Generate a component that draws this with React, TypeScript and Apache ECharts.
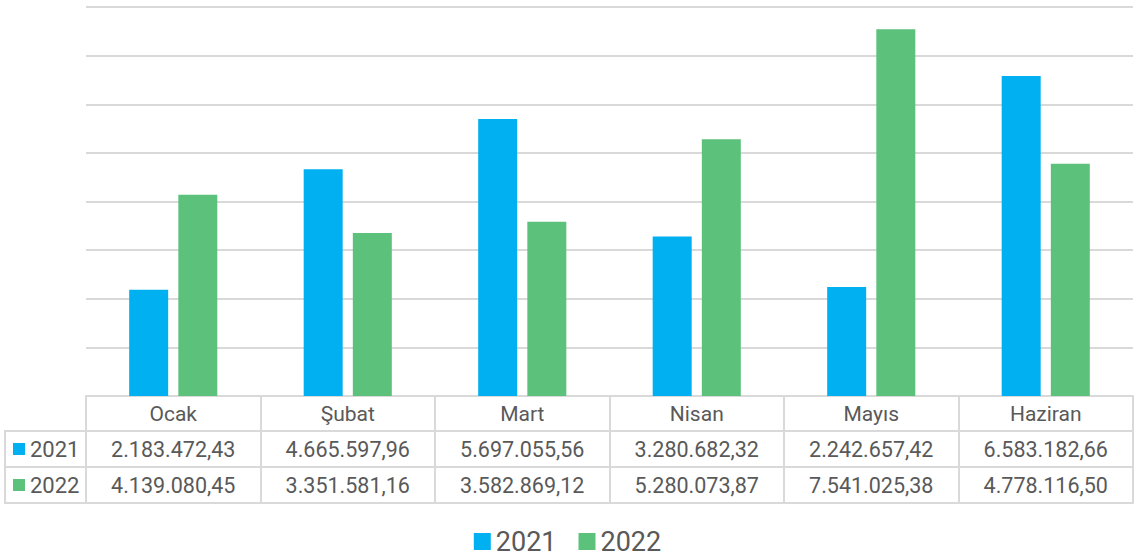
import React, { useEffect, useRef } from "react";
import * as echarts from "echarts";

const categories = ["Ocak", "Şubat", "Mart", "Nisan", "Mayıs", "Haziran"];
const seriesNames = ["2021", "2022"];
const values2021 = [2183472.43, 4665597.96, 5697055.56, 3280682.32, 2242657.42, 6583182.66];
const values2022 = [4139080.45, 3351581.16, 3582869.12, 5280073.87, 7541025.38, 4778116.5];
const colors = ["#00B0F0", "#5CC27B"];

const FONT = "Roboto";
const TEXT = "#595959";
const LINE = "#D9D9D9";

function formatTR(v: number): string {
  const fixed = v.toFixed(2);
  const [intPart, dec] = fixed.split(".");
  const withDots = intPart.replace(/\B(?=(\d{3})+(?!\d))/g, ".");
  return withDots + "," + dec;
}

export default function App() {
  const ref = useRef<HTMLDivElement>(null);
  useEffect(() => {
    if (!ref.current) return;
    const chart = echarts.init(ref.current, undefined, { renderer: "svg" });
    const rowAxis = (data: string[], offset: number, showLabel: boolean) => ({
      type: "category",
      gridIndex: 0,
      position: "bottom",
      offset,
      data,
      axisLine: { show: true, lineStyle: { color: LINE, width: 2 } },
      axisTick: { show: false },
      axisLabel: {
        show: showLabel,
        margin: 7,
        fontSize: 21.5,
        fontFamily: FONT,
        color: TEXT,
        interval: 0,
      },
      splitLine: { show: false },
    });
    const rows = [values2021, values2022];
    const leftGraphics: any[] = [
      { type: "line", shape: { x1: 5, y1: 431, x2: 86, y2: 431 }, style: { stroke: LINE, lineWidth: 2 } },
      { type: "line", shape: { x1: 5, y1: 467, x2: 86, y2: 467 }, style: { stroke: LINE, lineWidth: 2 } },
      { type: "line", shape: { x1: 5, y1: 503, x2: 86, y2: 503 }, style: { stroke: LINE, lineWidth: 2 } },
      { type: "line", shape: { x1: 5, y1: 430, x2: 5, y2: 504 }, style: { stroke: LINE, lineWidth: 2 } },
    ];
    seriesNames.forEach((name, i) => {
      const cy = 449 + i * 36;
      leftGraphics.push({
        type: "rect",
        shape: { x: 13, y: cy - 6, width: 12, height: 12 },
        style: { fill: colors[i] },
      });
      leftGraphics.push({
        type: "text",
        x: 30,
        y: cy,
        style: {
          text: name,
          fontSize: 22,
          fontFamily: FONT,
          fill: TEXT,
          verticalAlign: "middle",
          align: "left",
        },
      });
    });
    chart.setOption({
      animation: false,
      color: colors,
      grid: { left: 86, right: 2, top: 7, bottom: 161, containLabel: false },
      legend: {
        data: seriesNames,
        left: "center",
        top: 528,
        padding: 0,
        itemWidth: 17,
        itemHeight: 17,
        itemGap: 22,
        icon: "rect",
        textStyle: { fontSize: 27, lineHeight: 27, fontFamily: FONT, color: TEXT },
      },
      xAxis: [
        {
          type: "category",
          gridIndex: 0,
          position: "bottom",
          data: categories,
          axisLine: { show: true, lineStyle: { color: LINE, width: 2 } },
          axisTick: { show: true, length: 107, lineStyle: { color: LINE, width: 2 } },
          axisLabel: { margin: 7, fontSize: 21, fontFamily: FONT, color: TEXT, interval: 0 },
        },
        rowAxis(rows[0].map(formatTR), 35, true),
        rowAxis(rows[1].map(formatTR), 71, true),
        rowAxis(categories.map(() => ""), 107, false),
      ],
      yAxis: {
        type: "value",
        min: 0,
        max: 8000000,
        interval: 1000000,
        axisLabel: { show: false },
        axisLine: { show: false },
        axisTick: { show: false },
        splitLine: { lineStyle: { color: LINE, width: 2 } },
      },
      series: [
        { name: seriesNames[0], type: "bar", data: values2021, barWidth: 39, barGap: "26%", xAxisIndex: 0 },
        { name: seriesNames[1], type: "bar", data: values2022, barWidth: 39, barGap: "26%", xAxisIndex: 0 },
      ],
      graphic: leftGraphics,
    });
    return () => chart.dispose();
  }, []);
  return (
    <div
      ref={ref}
      style={{ position: "fixed", left: 0, top: 0, width: 1135, height: 557, background: "#fff" }}
    />
  );
}
